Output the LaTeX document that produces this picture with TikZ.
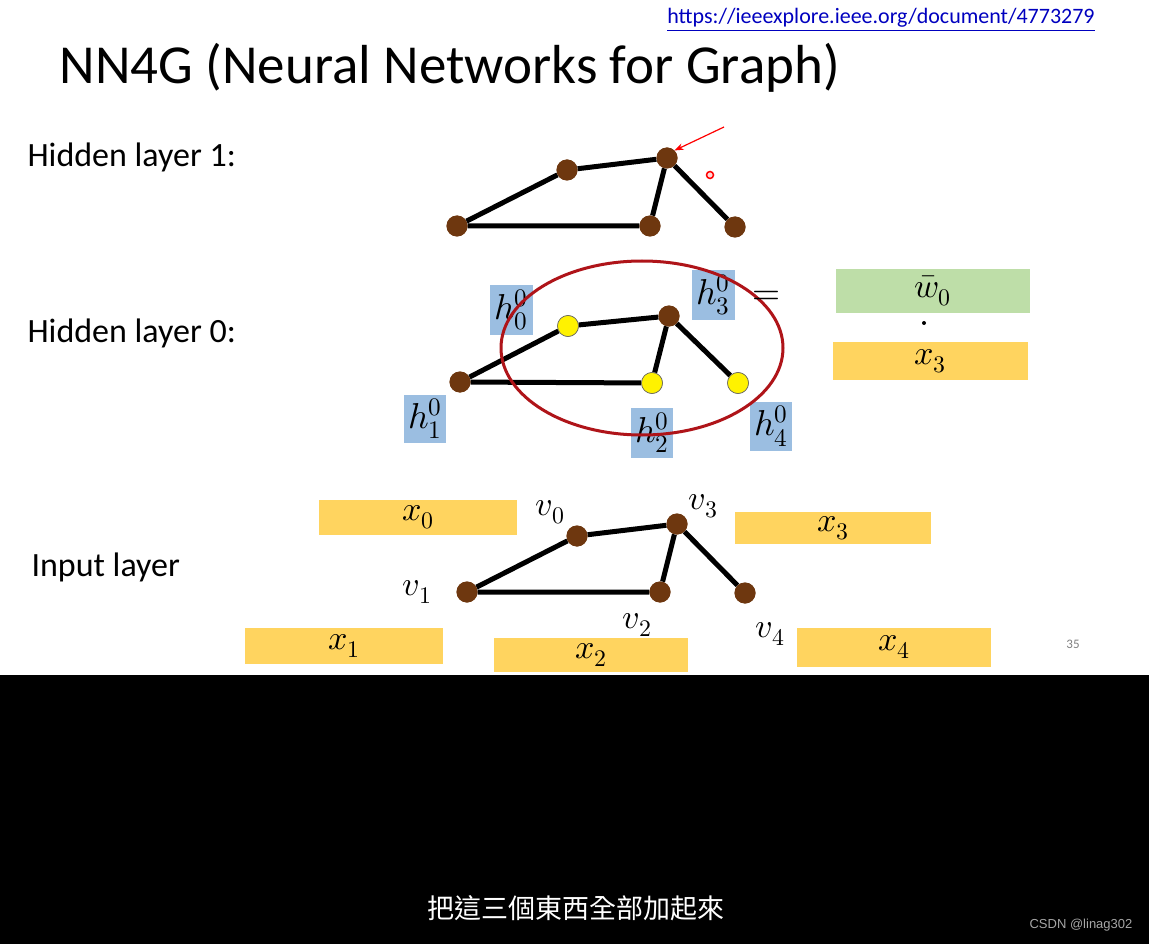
\documentclass[tikz,border=0pt]{standalone}
\usepackage{fontspec}
\usepackage{unicode-math}
\setmathfont{Latin Modern Math}
\setmainfont{Carlito}
\newfontfamily\cjk{Noto Sans CJK TC}
\newfontfamily\arialf{Liberation Sans}
\usetikzlibrary{arrows.meta}
\definecolor{brn}{RGB}{110,55,15}
\definecolor{ylw}{RGB}{255,212,95}
\definecolor{blu}{RGB}{155,190,225}
\definecolor{grn}{RGB}{190,222,168}
\definecolor{dred}{RGB}{175,20,25}
\begin{document}
\begin{tikzpicture}[x=1pt,y=-1pt,
  vb/.style={circle,fill=brn,minimum size=21pt,inner sep=0pt},
  vy/.style={circle,fill=yellow,draw=black!60,line width=0.6pt,minimum size=21pt,inner sep=0pt},
  ed/.style={line width=5pt,black},
  lab/.style={font=\fontsize{34}{36}\selectfont,anchor=west},
  hb/.style={fill=blu,inner sep=0pt,font=\fontsize{36}{38}\selectfont},
  yb/.style={fill=ylw,inner sep=0pt,font=\fontsize{34}{36}\selectfont},
  vl/.style={font=\fontsize{34}{36}\selectfont}]
\useasboundingbox (0,0) rectangle (1149,944);
\fill[white] (0,0) rectangle (1149,675);
\fill[black] (0,675) rectangle (1149,944);
\node[text=blue!75!black,font=\fontsize{22}{24}\selectfont] (url) at (881,20) {\underline{https://ieeexplore.ieee.org/document/4773279}};
\node[anchor=west,font=\fontsize{55}{58}\selectfont] (title) at (56,68) {NN4G (Neural Networks for Graph)};
\node[lab] (l1) at (24,157) {Hidden layer 1:};
\node[lab] (l0) at (24,333) {Hidden layer 0:};
\node[lab] (li) at (28,567) {Input layer};
% hidden 1
\node[vb] (a1) at (457,226) {}; \node[vb] (b1) at (567,170) {};
\node[vb] (c1) at (667,158) {}; \node[vb] (d1) at (650,226) {};
\node[vb] (e1) at (735,227) {};
\draw[ed] (a1)--(b1) (b1)--(c1) (c1)--(d1) (d1)--(a1) (c1)--(e1);
\node[vb] at (a1) {}; \node[vb] at (b1) {}; \node[vb] at (c1) {}; \node[vb] at (d1) {}; \node[vb] at (e1) {};
\coordinate (as) at (724,127);
\draw[red,line width=1.2pt,-{Stealth[length=9pt]}] (as) -- (c1.north east);
\node[circle,draw=red,fill=red!15,line width=1.5pt,minimum size=7pt,inner sep=0pt] (dot) at (710,175) {};
% hidden 0 labels
\node[hb,minimum width=43pt,minimum height=50pt] (h0) at (511,310) {$h_0^0$};
\node[hb,minimum width=43pt,minimum height=50pt] (h3) at (713,295) {$h_3^0$};
\node[hb,minimum width=42pt,minimum height=48pt] (h1) at (425,419) {$h_1^0$};
\node[hb,minimum width=42pt,minimum height=50pt] (h2) at (652,433) {$h_2^0$};
\node[hb,minimum width=42pt,minimum height=49pt] (h4) at (771,426) {$h_4^0$};
\node[vb] (a0) at (460,382) {}; \node[vy] (b0) at (568,326) {};
\node[vb] (c0) at (669,316) {}; \node[vy] (d0) at (652,383) {};
\node[vy] (e0) at (738,383) {};
\draw[ed] (a0)--(b0) (b0)--(c0) (c0)--(d0) (d0)--(a0) (c0)--(e0);
\node[vb] at (a0) {}; \node[vy] at (b0) {}; \node[vb] at (c0) {}; \node[vy] at (d0) {}; \node[vy] at (e0) {};
\draw[dred,line width=3pt] (642,348) ellipse [x radius=141,y radius=87];
\node[font=\fontsize{36}{38}\selectfont] (eq) at (766,298) {$=$};
\node[fill=grn,minimum width=194pt,minimum height=44pt,inner sep=0pt,font=\fontsize{34}{36}\selectfont] (w) at (933,291) {$\bar{w}_0$};
\node[circle,fill=black,minimum size=4pt,inner sep=0pt] (dt) at (924,323) {};
\node[yb,minimum width=195pt,minimum height=38pt] (x3r) at (930,361) {$x_3$};
% input
\node[yb,minimum width=198pt,minimum height=35pt] (x0) at (418,517) {$x_0$};
\node[yb,minimum width=196pt,minimum height=32pt] (x3) at (833,528) {$x_3$};
\node[yb,minimum width=198pt,minimum height=36pt] (x1) at (344,646) {$x_1$};
\node[yb,minimum width=194pt,minimum height=34pt] (x2) at (591,655) {$x_2$};
\node[yb,minimum width=194pt,minimum height=39pt] (x4) at (894,647) {$x_4$};
\node[vb] (ai) at (467,592) {}; \node[vb] (bi) at (577,536) {};
\node[vb] (ci) at (677,524) {}; \node[vb] (di) at (660,592) {};
\node[vb] (ei) at (745,593) {};
\draw[ed] (ai)--(bi) (bi)--(ci) (ci)--(di) (di)--(ai) (ci)--(ei);
\node[vb] at (ai) {}; \node[vb] at (bi) {}; \node[vb] at (ci) {}; \node[vb] at (di) {}; \node[vb] at (ei) {};
\node[vl] (v0) at (550,512) {$v_0$};
\node[vl] (v3) at (703,506) {$v_3$};
\node[vl] (v1) at (417,592) {$v_1$};
\node[vl] (v2) at (637,625) {$v_2$};
\node[vl] (v4) at (770,634) {$v_4$};
\node[text=gray,font=\fontsize{13}{15}\selectfont] (pg) at (1073,644) {35};
\node[text=white,font=\cjk\fontsize{27}{30}\selectfont] (sub) at (576,908) {把這三個東西全部加起來};
\node[text=gray!70,font=\arialf\fontsize{13}{15}\selectfont] (csdn) at (1081,925) {CSDN @linag302};
\end{tikzpicture}
\end{document}
